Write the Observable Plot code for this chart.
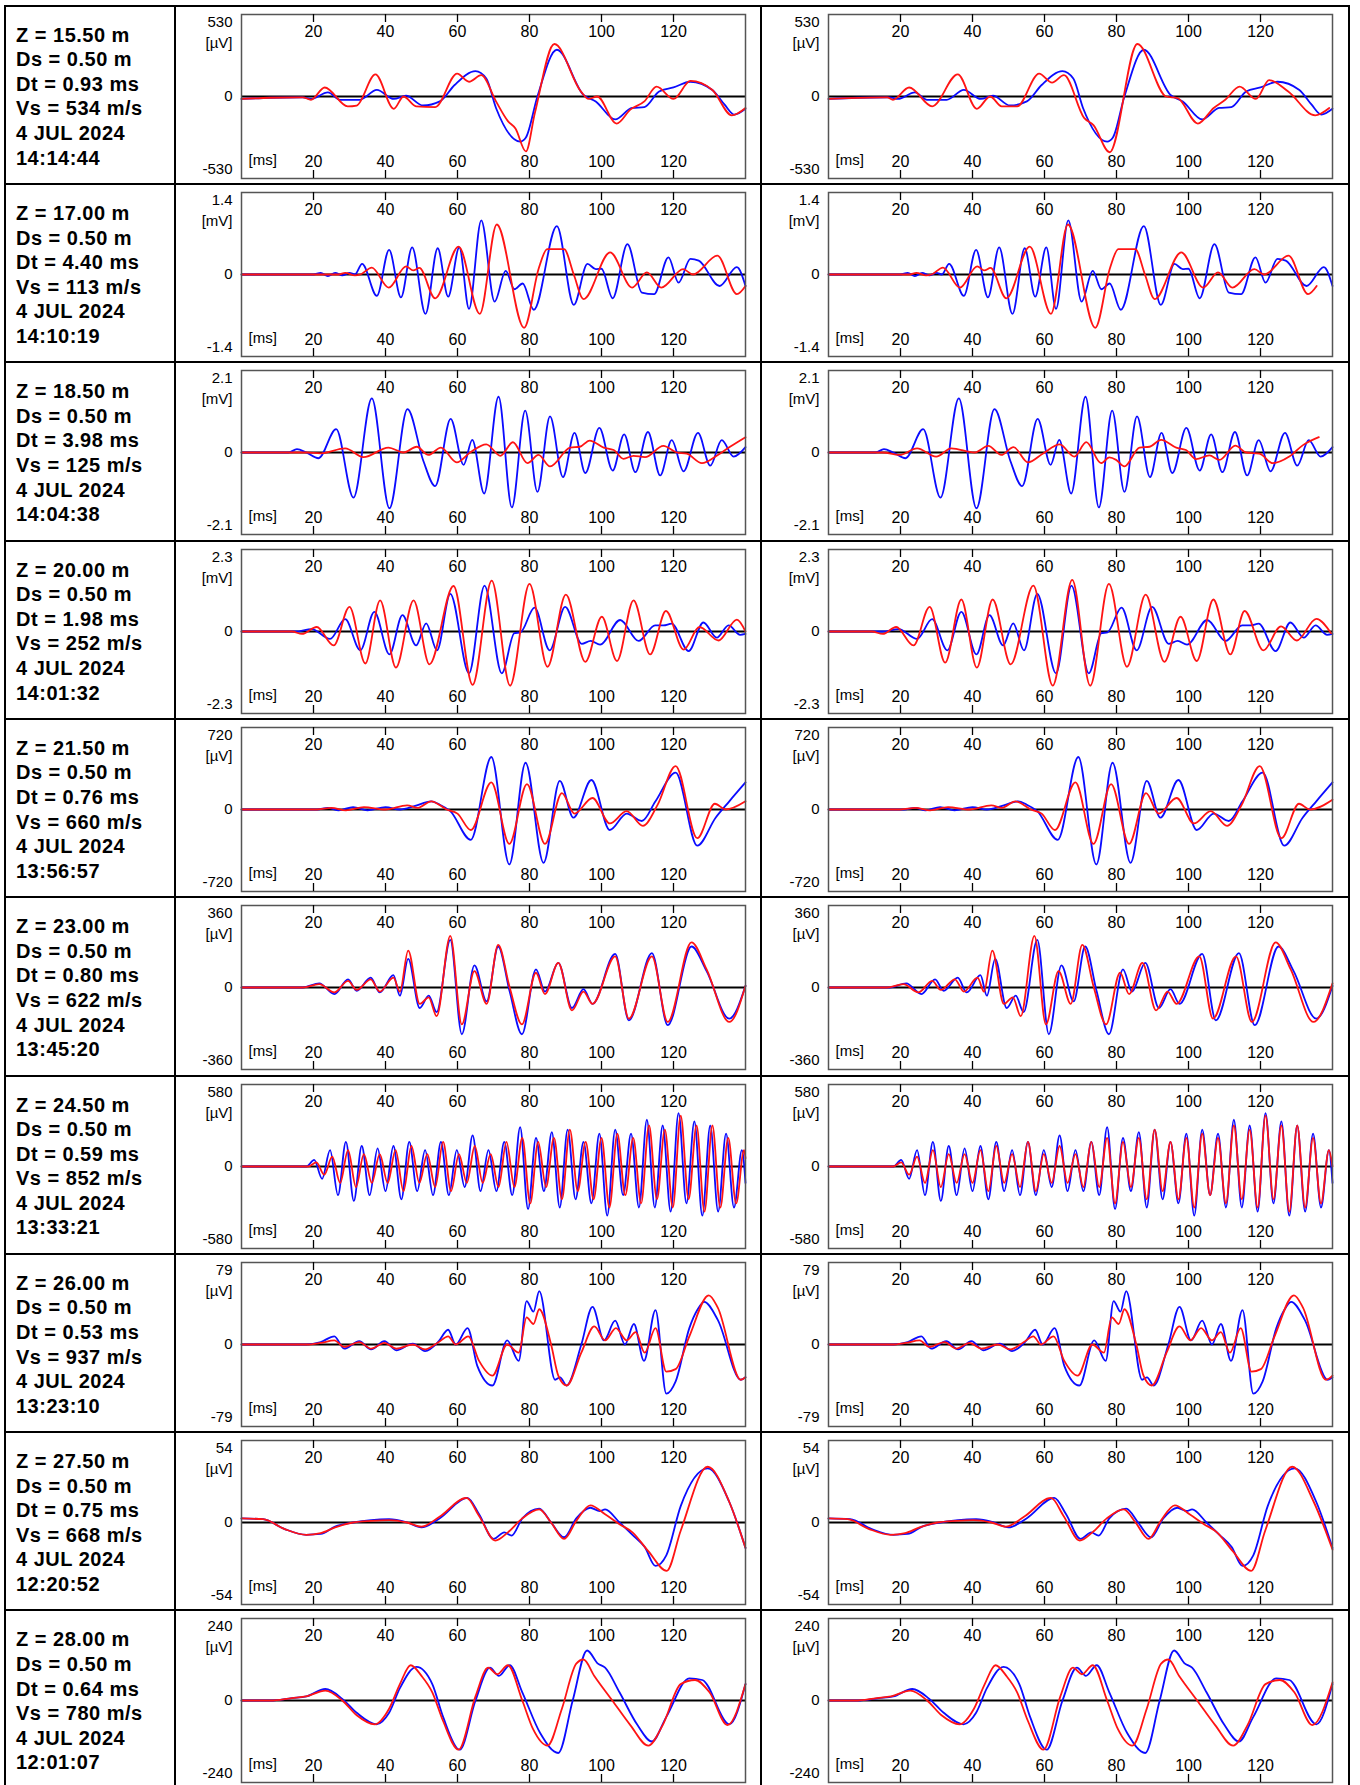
<!DOCTYPE html>
<html><head><meta charset="utf-8">
<script src="https://cdn.jsdelivr.net/npm/d3@7"></script>
<script src="https://cdn.jsdelivr.net/npm/@observablehq/plot@0.6"></script>
<style>
body{margin:0;background:#fff;}
#page{position:relative;width:1360px;height:1785px;overflow:hidden;font-family:"Liberation Sans",Arial,sans-serif;background:#fff;}
.hl{position:absolute;height:2px;background:#000;}
.vl{position:absolute;width:2px;background:#000;}
.lab{position:absolute;left:16px;font-weight:bold;font-size:20px;letter-spacing:0.5px;line-height:24.6px;color:#000;white-space:nowrap;}
.panel{position:absolute;}
</style></head><body><div id="page"></div>
<script>
// ---- row annotations ----
const depths = ["15.50","17.00","18.50","20.00","21.50","23.00","24.50","26.00","27.50","28.00"];
const dsVals = ["0.50","0.50","0.50","0.50","0.50","0.50","0.50","0.50","0.50","0.50"];
const dtVals = ["0.93","4.40","3.98","1.98","0.76","0.80","0.59","0.53","0.75","0.64"];
const vsVals = ["534","113","125","252","660","622","852","937","668","780"];
const dates = ["4 JUL 2024","4 JUL 2024","4 JUL 2024","4 JUL 2024","4 JUL 2024","4 JUL 2024","4 JUL 2024","4 JUL 2024","4 JUL 2024","4 JUL 2024"];
const clock = ["14:14:44","14:10:19","14:04:38","14:01:32","13:56:57","13:45:20","13:33:21","13:23:10","12:20:52","12:01:07"];
// full-scale amplitude labels and units
const ampMax = ["530","1.4","2.1","2.3","720","360","580","79","54","240"];
const ampUnit = ["µV","mV","mV","mV","µV","µV","µV","µV","µV","µV"];
const xTicks = [20,40,60,80,100,120];

// ---- traces: [time ms, amplitude as fraction of full scale] ----
// blue = reference trace (same in both panels), red = left/right panel trace
const ref1 = [[0,-0.03],[8,-0.015],[17,-0.01],[19.3,-0.03],[24,0.05],[27.4,-0.04],[32.8,-0.04],[37.6,0.08],[42.3,-0.03],[45.7,0.01],[50.4,-0.11],[55.1,-0.06],[59.2,0.14],[65,0.31],[68,0.22],[70.7,-0.14],[77.4,-0.55],[79,-0.5],[82.2,0],[87.6,0.57],[95,0.02],[98.4,-0.06],[103.8,-0.28],[108.5,-0.14],[111.9,-0.13],[116,0.06],[120,0.11],[124.7,0.18],[130.8,0.08],[134.2,-0.1],[136.9,-0.22],[140,-0.15]];
const redL1 = [[0,-0.03],[8,-0.015],[17,-0.01],[19.3,-0.04],[23.1,0.11],[29.5,-0.12],[32,-0.11],[37.2,0.27],[42.3,-0.15],[45,0.0],[48.5,-0.12],[53.8,-0.13],[59.9,0.28],[63.2,0.18],[66.6,0.26],[70.7,-0.06],[74,-0.3],[76.1,-0.39],[79,-0.67],[81.5,-0.2],[86.9,0.64],[94.3,0.06],[96.4,-0.03],[98.8,0],[104.2,-0.33],[108,-0.16],[111.9,-0.06],[115.3,0.12],[120,-0.03],[124.7,0.19],[130.8,0.08],[136.2,-0.23],[140,-0.14]];
const redR1 = [[0,-0.03],[5.5,-0.02],[16.3,-0.01],[17.9,-0.04],[22.4,0.11],[28.8,-0.12],[35.9,0.27],[41.2,-0.15],[44.9,0.0],[48.1,-0.12],[52.4,-0.12],[58.5,0.28],[62.1,0.17],[65.4,0.26],[71,-0.26],[73.6,-0.35],[78.1,-0.68],[85.8,0.64],[93.8,0.0],[97,-0.02],[102.6,-0.33],[107,-0.14],[110.2,-0.04],[114.2,0.12],[118.7,-0.03],[122.4,0.2],[127.7,0.06],[135.2,-0.23],[139.1,-0.14]];

const ref2 = [[0,0],[20,0],[22,0.02],[24,-0.02],[26,0.02],[28,-0.01],[30,0.02],[31.5,0],[33.5,0.13],[37.6,-0.26],[41,0.3],[44.3,-0.28],[47.4,0.33],[51.1,-0.48],[54.5,0.32],[57.4,-0.27],[60.5,0.33],[63.2,-0.42],[66.6,0.66],[70.3,-0.33],[73.4,0.045],[75.8,-0.18],[78.1,-0.11],[81.2,-0.43],[87.6,0.59],[92.3,-0.37],[96.1,0.13],[98.4,0.065],[100,0.07],[103.1,-0.29],[107.2,0.37],[111.2,-0.22],[114.6,-0.24],[118.6,0.21],[121.4,-0.1],[124.7,0.19],[127,0.17],[132.8,-0.14],[137.6,0.09],[140,-0.14]];
const redL2 = [[0,0],[27,0],[28.8,0.02],[31.5,-0.01],[33,0],[36.2,0.085],[40.9,-0.16],[45.7,0.1],[47.7,0.05],[49.4,0.08],[53.8,-0.29],[60.3,0.34],[66.2,-0.48],[70.9,0.61],[78.5,-0.65],[82.6,0.08],[84.9,0.31],[89.6,0.31],[92.3,0.0],[95,-0.3],[102.4,0.27],[108.5,-0.16],[112.6,0.025],[116.6,-0.16],[122.7,0.065],[125.4,0.0],[132.2,0.23],[137.6,-0.24],[140,-0.14]];
const redR2 = [[0,0],[22.6,0],[24.4,0.02],[27.1,-0.01],[28.6,0],[31.8,0.085],[36.5,-0.16],[41.3,0.1],[43.3,0.05],[45,0.08],[49.4,-0.29],[55.9,0.34],[61.8,-0.48],[66.5,0.61],[74.1,-0.65],[78.2,0.08],[80.5,0.31],[85.2,0.31],[87.9,0.0],[90.6,-0.3],[98,0.27],[104.1,-0.16],[108.2,0.025],[112.2,-0.16],[118.3,0.065],[121,0.0],[127.8,0.23],[133.2,-0.24],[135.6,-0.14]];

const ref3 = [[0,0],[13,0],[15.4,0.04],[18,0.0],[21.4,-0.07],[26.3,0.285],[31.1,-0.55],[36.2,0.66],[41.1,-0.68],[46.1,0.53],[50.5,-0.1],[53.8,-0.41],[58.1,0.41],[61.7,-0.15],[64.1,0.155],[67.4,-0.5],[71.4,0.68],[75.1,-0.67],[78.8,0.51],[82.2,-0.48],[85.7,0.44],[89.3,-0.3],[92.5,0.24],[95.5,-0.25],[99.4,0.3],[103.1,-0.22],[106.3,0.22],[109.4,-0.24],[112.9,0.25],[116.3,-0.28],[119.5,0.15],[122.8,-0.23],[126.8,0.24],[130.2,-0.16],[133.4,0.15],[136.7,-0.05],[140,0.065]];
const redL3 = [[0,0],[18,0],[22,-0.01],[28.8,0.05],[33.9,-0.057],[40.8,0.06],[45,0],[48.7,0.07],[51.9,-0.03],[55.4,0.06],[59.8,-0.12],[63.5,0.0],[68,0.1],[71.9,-0.04],[75.4,0.125],[79.4,-0.13],[82.5,-0.03],[85.7,-0.17],[91.3,0.06],[94,0.07],[96.7,0.146],[100.6,0.06],[103.4,0.03],[106.1,-0.077],[108.9,-0.04],[112.1,-0.057],[117.2,0.08],[120.9,0],[123.7,-0.015],[127.9,-0.13],[132,-0.04],[135.7,0.07],[140,0.187]];
const redR3 = [[0,0],[15,0],[19.7,-0.03],[24.6,0.05],[29.9,-0.05],[34.1,0.05],[40.6,0.0],[44.4,0.08],[48,-0.03],[51.4,0.065],[55.4,-0.12],[59.5,-0.016],[64.2,0.1],[68.3,-0.05],[71.6,0.126],[75.7,-0.13],[78,-0.06],[79.9,-0.09],[82.2,-0.17],[86.4,0.06],[89.2,0.07],[92.4,0.155],[96.6,0.06],[99.3,0.03],[102.1,-0.08],[105.8,-0.036],[108.6,-0.09],[113,0.085],[116,0],[119.7,-0.015],[123.4,-0.13],[128,-0.05],[131.8,0.09],[136.2,0.187]];

const ref4 = [[0,0],[15,0],[19.5,0.03],[24.6,-0.09],[28.8,0.15],[33,-0.23],[36.9,0.24],[41.1,-0.28],[44.7,0.2],[48.5,-0.17],[51.3,0.1],[54.3,-0.23],[58,0.46],[63.2,-0.51],[67.5,0.56],[72.3,-0.51],[75.8,-0.02],[77.5,-0.01],[81.4,0.29],[85.6,-0.23],[89.9,0.3],[94.5,-0.15],[97,-0.115],[99.6,-0.16],[105.2,0.14],[110.3,-0.115],[114.9,0.075],[117.2,0.075],[119.5,0.095],[124.2,-0.24],[128.3,0.11],[132,-0.075],[135.3,0.075],[138.5,-0.04],[140,-0.03]];
const redL4 = [[0,0],[14,0],[16.8,-0.03],[20.9,0.055],[25.6,-0.17],[30,0.3],[34.4,-0.39],[38.5,0.38],[42.9,-0.44],[47.8,0.38],[52.2,-0.4],[58.9,0.555],[64.2,-0.65],[69.5,0.62],[74.6,-0.66],[80,0.58],[85,-0.43],[90.1,0.45],[95.5,-0.37],[100.1,0.18],[104.3,-0.36],[108.9,0.38],[113.5,-0.28],[117.9,0.25],[122.8,-0.22],[127.2,0.055],[132.5,-0.11],[137.6,0.145],[140,0]];
const redR4 = [[0,0],[12,0],[15.1,-0.03],[18.8,0.055],[23.6,-0.17],[28.1,0.3],[32.4,-0.38],[36.9,0.39],[41.2,-0.44],[45.6,0.39],[50.6,-0.4],[56.9,0.56],[62.3,-0.66],[67.7,0.63],[72.7,-0.66],[77.9,0.58],[82.9,-0.43],[88.1,0.45],[93.3,-0.37],[97.8,0.18],[102.3,-0.36],[106.9,0.39],[111.6,-0.28],[115.6,0.25],[120.8,-0.23],[125.7,0.063],[130.1,-0.11],[135.5,0.155],[139.6,-0.02]];

const ref5 = [[0,0],[21,0],[24,0.02],[27,-0.01],[31,0.03],[35,-0.01],[40,0.03],[44,0.0],[48,0.04],[52.7,0.1],[55,0.06],[58,-0.02],[63.7,-0.37],[69.4,0.64],[74.4,-0.67],[78.9,0.57],[83.9,-0.65],[88.4,0.35],[92.2,-0.1],[97.2,0.36],[102.3,-0.25],[107,-0.05],[111.2,-0.14],[115,0.1],[120.6,0.45],[126.6,-0.44],[131.7,-0.1],[135.5,0.1],[140,0.33]];
const redL5 = [[0,0],[21,0],[25,0.02],[29,-0.01],[34,0.03],[40,0.0],[46,0.05],[49,0.02],[52.7,0.1],[57,0.0],[60,-0.05],[63.7,-0.25],[69.4,0.33],[74.4,-0.42],[79.3,0.31],[84.3,-0.42],[89,0.2],[92.5,-0.05],[97.5,0.14],[102.3,-0.17],[107,-0.02],[111.5,-0.2],[115.5,0.05],[120.6,0.53],[126.6,-0.35],[131.5,0.07],[134.5,0.0],[140,0.1]];
const redR5 = [[0,0],[20,0],[24.2,0.02],[28.2,-0.01],[33.2,0.03],[39.2,0.0],[45.2,0.05],[48.2,0.02],[51.9,0.1],[56.2,0.0],[59.2,-0.05],[62.9,-0.25],[68.6,0.33],[73.6,-0.42],[78.5,0.31],[83.5,-0.42],[88.2,0.2],[91.7,-0.05],[96.7,0.14],[101.5,-0.17],[106.2,-0.02],[110.7,-0.2],[114.7,0.05],[119.8,0.53],[125.8,-0.35],[130.7,0.07],[133.7,0.0],[140,0.12]];

const ref6 = [[0,0],[17,0],[21.6,0.05],[25.8,-0.08],[29.6,0.1],[32,-0.04],[35.9,0.12],[38.4,-0.06],[42.2,0.15],[44,-0.1],[46.3,0.35],[49.5,-0.25],[52,-0.1],[54.2,-0.3],[58,0.58],[61.2,-0.57],[64.7,0.27],[68.1,-0.17],[71.3,0.5],[74.5,-0.05],[77.9,-0.57],[81.8,0.22],[84.3,-0.05],[88,0.3],[91.8,-0.25],[95,-0.02],[97.5,-0.2],[103.8,0.41],[107.6,-0.4],[114,0.42],[118.4,-0.46],[125,0.5],[129.2,0.2],[135.5,-0.38],[140,0.02]];
const redL6 = [[0,0],[17,0],[21.6,0.04],[25.8,-0.06],[29.6,0.08],[32,-0.03],[35.9,0.1],[38.4,-0.05],[42.2,0.12],[44,-0.05],[46.3,0.45],[49.5,-0.2],[52,-0.12],[54.2,-0.35],[58,0.63],[61.2,-0.45],[64.7,0.2],[68.1,-0.2],[71.3,0.52],[74.5,0.0],[77.9,-0.45],[81.8,0.18],[84.3,-0.08],[88,0.3],[91.8,-0.28],[95,-0.05],[97.5,-0.2],[103.8,0.38],[107.6,-0.38],[114,0.38],[118.4,-0.42],[125,0.55],[129.2,0.22],[135.5,-0.42],[140,0.02]];
const redR6 = [[0,0],[16.2,0],[20.8,0.04],[25,-0.06],[28.8,0.08],[31.2,-0.03],[35.1,0.1],[37.6,-0.05],[41.4,0.12],[43.2,-0.05],[45.5,0.45],[48.7,-0.2],[51.2,-0.12],[53.4,-0.35],[57.2,0.63],[60.4,-0.45],[63.9,0.2],[67.3,-0.2],[70.5,0.52],[73.7,0.0],[77.1,-0.45],[81,0.18],[83.5,-0.08],[87.2,0.3],[91,-0.28],[94.2,-0.05],[96.7,-0.2],[103,0.38],[106.8,-0.38],[113.2,0.38],[117.6,-0.42],[124.2,0.55],[128.4,0.22],[134.7,-0.42],[140,0.05]];

const ref7 = [[0,0],[18,0],[20.2,0.08],[22.4,-0.15],[24.6,0.2],[26.8,-0.35],[29,0.3],[31.2,-0.42],[33.4,0.25],[35.6,-0.35],[37.8,0.22],[40,-0.3],[42.2,0.25],[44.4,-0.4],[46.6,0.3],[48.8,-0.3],[51,0.2],[53.2,-0.35],[55.4,0.3],[57.6,-0.35],[59.8,0.2],[62,-0.25],[64.2,0.38],[66.4,-0.3],[68.6,0.2],[70.8,-0.3],[73,0.3],[75.2,-0.35],[77.4,0.48],[79.6,-0.52],[81.8,0.35],[84,-0.3],[86.2,0.42],[88.4,-0.5],[90.6,0.45],[92.8,-0.4],[95,0.3],[97.2,-0.45],[99.4,0.4],[101.6,-0.6],[103.8,0.45],[106,-0.35],[108.2,0.4],[110.4,-0.5],[112.6,0.57],[114.8,-0.5],[117,0.5],[119.2,-0.55],[121.4,0.65],[123.6,-0.45],[125.8,0.55],[128,-0.6],[130.2,0.5],[132.4,-0.55],[134.6,0.4],[136.8,-0.5],[139,0.2],[140,-0.2]];
const redL7 = [[0,0],[18.5,0],[20.8,0.05],[23,-0.1],[25.2,0.12],[27.4,-0.2],[29.6,0.2],[31.8,-0.25],[34,0.15],[36.2,-0.2],[38.4,0.15],[40.6,-0.2],[42.8,0.2],[45,-0.3],[47.2,0.25],[49.4,-0.2],[51.6,0.15],[53.8,-0.25],[56,0.3],[58.2,-0.3],[60.4,0.15],[62.6,-0.2],[64.8,0.25],[67,-0.2],[69.2,0.15],[71.4,-0.25],[73.6,0.3],[75.8,-0.25],[78,0.35],[80.2,-0.45],[82.4,0.3],[84.6,-0.25],[86.8,0.35],[89,-0.4],[91.2,0.45],[93.4,-0.3],[95.6,0.3],[97.8,-0.4],[100,0.35],[102.2,-0.5],[104.4,0.4],[106.6,-0.35],[108.8,0.35],[111,-0.45],[113.2,0.5],[115.4,-0.4],[117.6,0.45],[119.8,-0.5],[122,0.62],[124.2,-0.4],[126.4,0.5],[128.6,-0.55],[130.8,0.5],[133,-0.5],[135.2,0.35],[137.4,-0.45],[139.6,0.2],[140,0.1]];
const redR7 = [[0,0],[17.9,0],[20.2,0.05],[22.4,-0.1],[24.6,0.12],[26.8,-0.2],[29,0.2],[31.2,-0.25],[33.4,0.15],[35.6,-0.2],[37.8,0.15],[40,-0.2],[42.2,0.2],[44.4,-0.3],[46.6,0.25],[48.8,-0.2],[51,0.15],[53.2,-0.25],[55.4,0.3],[57.6,-0.3],[59.8,0.15],[62,-0.2],[64.2,0.25],[66.4,-0.2],[68.6,0.15],[70.8,-0.25],[73,0.3],[75.2,-0.25],[77.4,0.35],[79.6,-0.45],[81.8,0.3],[84,-0.25],[86.2,0.35],[88.4,-0.4],[90.6,0.45],[92.8,-0.3],[95,0.3],[97.2,-0.4],[99.4,0.35],[101.6,-0.5],[103.8,0.4],[106,-0.35],[108.2,0.35],[110.4,-0.45],[112.6,0.5],[114.8,-0.4],[117,0.45],[119.2,-0.5],[121.4,0.62],[123.6,-0.4],[125.8,0.5],[128,-0.55],[130.2,0.5],[132.4,-0.5],[134.6,0.35],[136.8,-0.45],[139,0.2],[140,0.0]];

const ref8 = [[0,0],[18,0],[22,0.03],[25.8,0.1],[28.5,-0.05],[32.7,0.04],[36,-0.06],[39.7,0.04],[43,-0.07],[47.6,0.01],[51,-0.08],[54.8,0.04],[57.4,0.18],[59.5,0.0],[62.8,0.2],[65.5,-0.26],[69.7,-0.5],[73.8,0.05],[77,-0.2],[79.2,0.53],[81.1,0.4],[82.7,0.65],[87.1,-0.43],[88.5,-0.4],[90.3,-0.5],[94.4,0.0],[97.5,0.46],[100.7,0.05],[103.8,0.29],[106.5,0.0],[109,0.25],[111.8,-0.2],[115,0.42],[118,-0.6],[120.6,-0.45],[124.4,0.2],[126.6,0.42],[128.5,0.52],[132.3,0.3],[138.7,-0.43],[140,-0.4]];
const redL8 = [[0,0],[18,0],[22,0.02],[25.8,0.05],[28.5,-0.03],[32.7,0.03],[36,-0.05],[39.7,0.02],[43,-0.05],[47.6,0.0],[51,-0.06],[54.8,0.03],[57.4,0.1],[59.5,0.0],[63,0.1],[66,-0.2],[69.7,-0.38],[73.8,0.0],[77,-0.1],[79.2,0.33],[81.1,0.25],[82.7,0.43],[86,0.0],[88,-0.38],[90.3,-0.5],[94.4,-0.1],[98,0.22],[101,0.05],[104,0.2],[107,0.05],[109.5,0.15],[112,-0.1],[115,0.2],[118,-0.33],[120.6,-0.3],[124.4,0.1],[129.8,0.6],[132.3,0.45],[138.7,-0.43],[140,-0.4]];
const redR8 = [[0,0],[17.5,0],[21.5,0.02],[25.3,0.05],[28,-0.03],[32.2,0.03],[35.5,-0.05],[39.2,0.02],[42.5,-0.05],[47.1,0.0],[50.5,-0.06],[54.3,0.03],[56.9,0.1],[59,0.0],[62.5,0.1],[65.5,-0.2],[69.2,-0.38],[73.3,0.0],[76.5,-0.1],[78.7,0.33],[80.6,0.25],[82.2,0.43],[85.5,0.0],[87.5,-0.38],[89.8,-0.5],[93.9,-0.1],[97.5,0.22],[100.5,0.05],[103.5,0.2],[106.5,0.05],[109,0.15],[111.5,-0.1],[114.5,0.2],[117.5,-0.33],[120.1,-0.3],[123.9,0.1],[129.3,0.6],[131.8,0.45],[138.2,-0.43],[140,-0.38]];

const ref9 = [[0,0.05],[6,0.04],[12,-0.08],[18,-0.15],[22,-0.14],[26,-0.05],[31,0.0],[36,0.03],[41,0.04],[46,0.0],[50,-0.06],[55,0.05],[62.7,0.3],[66,0.1],[70,-0.2],[73,-0.12],[75,-0.16],[78,0.05],[82.7,0.17],[86,0.0],[89.6,-0.18],[93,0.05],[96.9,0.18],[99.5,0.14],[101,0.16],[105,0.0],[108.6,-0.15],[112,-0.3],[115,-0.53],[118,-0.4],[122,0.2],[129.5,0.66],[135.5,0.25],[140,-0.31]];
const redL9 = [[0,0.05],[6,0.04],[12,-0.08],[18,-0.15],[22,-0.13],[26,-0.06],[31,0.0],[36,0.02],[41,0.03],[46,0.0],[50,-0.05],[55,0.07],[62.5,0.3],[66,0.08],[70.5,-0.22],[74,-0.12],[78,0.05],[82.7,0.16],[86,0.0],[89.6,-0.2],[93,0.02],[96.9,0.21],[101,0.1],[105,-0.02],[108.6,-0.12],[113,-0.35],[118.1,-0.59],[122,-0.1],[129.5,0.68],[135.5,0.25],[140,-0.31]];
const redR9 = [[0,0.05],[5.3,0.04],[11.3,-0.08],[17.3,-0.15],[21.3,-0.13],[25.3,-0.06],[30.3,0.0],[35.3,0.02],[40.3,0.03],[45.3,0.0],[49.3,-0.05],[54.3,0.07],[61.8,0.3],[65.3,0.08],[69.8,-0.22],[73.3,-0.12],[77.3,0.05],[82,0.16],[85.3,0.0],[88.9,-0.2],[92.3,0.02],[96.2,0.21],[100.3,0.1],[104.3,-0.02],[107.9,-0.12],[112.3,-0.35],[117.4,-0.59],[121.3,-0.1],[128.8,0.68],[134.8,0.25],[140,-0.33]];

const ref10 = [[0,0],[8,0.0],[14,0.03],[18,0.05],[23.3,0.14],[28,0.02],[32,-0.15],[37.5,-0.29],[41,-0.15],[44,0.15],[48.6,0.41],[53,0.2],[56,-0.2],[60.6,-0.6],[65,0.0],[69,0.4],[71.5,0.3],[74.5,0.43],[78,0.1],[83,-0.4],[88,-0.64],[92,0.0],[96,0.61],[99,0.45],[101,0.4],[105,0.1],[110,-0.3],[114,-0.5],[118,-0.2],[124.4,0.27],[128,0.25],[135.5,-0.29],[140,0.2]];
const redL10 = [[0,0],[8,0.0],[14,0.03],[18,0.05],[23.3,0.12],[28,0.0],[32,-0.18],[37,-0.29],[41,-0.1],[44,0.2],[47,0.43],[50,0.3],[53,0.1],[56,-0.25],[60.3,-0.6],[65,0.05],[68.5,0.4],[71,0.32],[74,0.43],[78,0.0],[81,-0.35],[85,-0.55],[89,-0.1],[93,0.45],[95,0.5],[98,0.3],[103,0.0],[108,-0.3],[113,-0.55],[117,-0.3],[122,0.2],[126,0.25],[130,0.1],[135,-0.3],[140,0.2]];
const redR10 = [[0,0],[7.4,0.0],[13.4,0.03],[17.4,0.05],[22.7,0.12],[27.4,0.0],[31.4,-0.18],[36.4,-0.29],[40.4,-0.1],[43.4,0.2],[46.4,0.43],[49.4,0.3],[52.4,0.1],[55.4,-0.25],[59.7,-0.6],[64.4,0.05],[67.9,0.4],[70.4,0.32],[73.4,0.43],[77.4,0.0],[80.4,-0.35],[84.4,-0.55],[88.4,-0.1],[92.4,0.45],[94.4,0.5],[97.4,0.3],[102.4,0.0],[107.4,-0.3],[112.4,-0.55],[116.4,-0.3],[121.4,0.2],[125.4,0.25],[129.4,0.1],[134.4,-0.3],[140,0.22]];

const refs = [ref1,ref2,ref3,ref4,ref5,ref6,ref7,ref8,ref9,ref10];
const redsL = [redL1,redL2,redL3,redL4,redL5,redL6,redL7,redL8,redL9,redL10];
const redsR = [redR1,redR2,redR3,redR4,redR5,redR6,redR7,redR8,redR9,redR10];

// ---- layout ----
const page = document.getElementById("page");
const ROW0 = 5.7, ROW_H = 178.3;
function el(cls, css, html) {
  const d = document.createElement("div");
  d.className = cls; Object.assign(d.style, css);
  if (html) d.innerHTML = html;
  page.appendChild(d); return d;
}
for (let i = 0; i <= 10; i++) {
  el("hl", {left: "4px", width: "1346px", top: (ROW0 + i * ROW_H - 1) + "px"});
}
[4, 174, 760, 1348].forEach(x => el("vl", {left: x + "px", top: "5px", height: "1785px"}));

function panel(i, red) {
  const font = '"Liberation Sans", Arial, sans-serif';
  return Plot.plot({
    width: 586, height: 178,
    marginLeft: 66, marginRight: 16, marginTop: 8, marginBottom: 6,
    x: {domain: [0, 140], axis: null},
    y: {domain: [-1, 1], axis: null},
    style: {fontFamily: font, fontSize: "15px", color: "#000", background: "transparent", overflow: "visible"},
    marks: [
      Plot.ruleY([0], {stroke: "#000", strokeWidth: 2}),
      Plot.line(refs[i], {x: d => d[0], y: d => d[1], stroke: "#0b0bff", strokeWidth: 1.8, curve: "monotone-x"}),
      Plot.line(red, {x: d => d[0], y: d => d[1], stroke: "#ff1414", strokeWidth: 1.8, curve: "monotone-x"}),
      Plot.frame({stroke: "#555", strokeWidth: 1.5}),
      Plot.ruleX(xTicks, {x: d => d, insetBottom: 156, stroke: "#000", strokeWidth: 1.3}),
      Plot.ruleX(xTicks, {x: d => d, insetTop: 156, stroke: "#000", strokeWidth: 1.3}),
      Plot.text(xTicks, {x: d => d, text: d => String(d), frameAnchor: "top", lineAnchor: "middle", dy: 17, fontSize: 16}),
      Plot.text(xTicks, {x: d => d, text: d => String(d), frameAnchor: "bottom", lineAnchor: "middle", dy: -17, fontSize: 16}),
      Plot.text(["[ms]"], {text: d => d, frameAnchor: "bottom-left", lineAnchor: "middle", dx: 7, dy: -18, textAnchor: "start", fontSize: 15}),
      Plot.text([ampMax[i]], {text: d => d, frameAnchor: "top-left", lineAnchor: "middle", dx: -9, dy: 8, textAnchor: "end"}),
      Plot.text(["[" + ampUnit[i] + "]"], {text: d => d, frameAnchor: "top-left", lineAnchor: "middle", dx: -9, dy: 28.5, textAnchor: "end"}),
      Plot.text(["0"], {text: d => d, frameAnchor: "left", lineAnchor: "middle", dx: -9, textAnchor: "end"}),
      Plot.text(["-" + ampMax[i]], {text: d => d, frameAnchor: "bottom-left", lineAnchor: "middle", dx: -9, dy: -9, textAnchor: "end"})
    ]
  });
}

for (let i = 0; i < 10; i++) {
  const top = ROW0 + i * ROW_H;
  el("lab", {top: (top + 17) + "px"},
    `Z = ${depths[i]} m<br>Ds = ${dsVals[i]} m<br>Dt = ${dtVals[i]} ms<br>Vs = ${vsVals[i]} m/s<br>${dates[i]}<br>${clock[i]}`);
  const pl = el("panel", {left: "175px", top: top + "px"});
  pl.appendChild(panel(i, redsL[i]));
  const pr = el("panel", {left: "761.5px", top: top + "px"});
  pr.appendChild(panel(i, redsR[i]));
}
</script></body></html>
